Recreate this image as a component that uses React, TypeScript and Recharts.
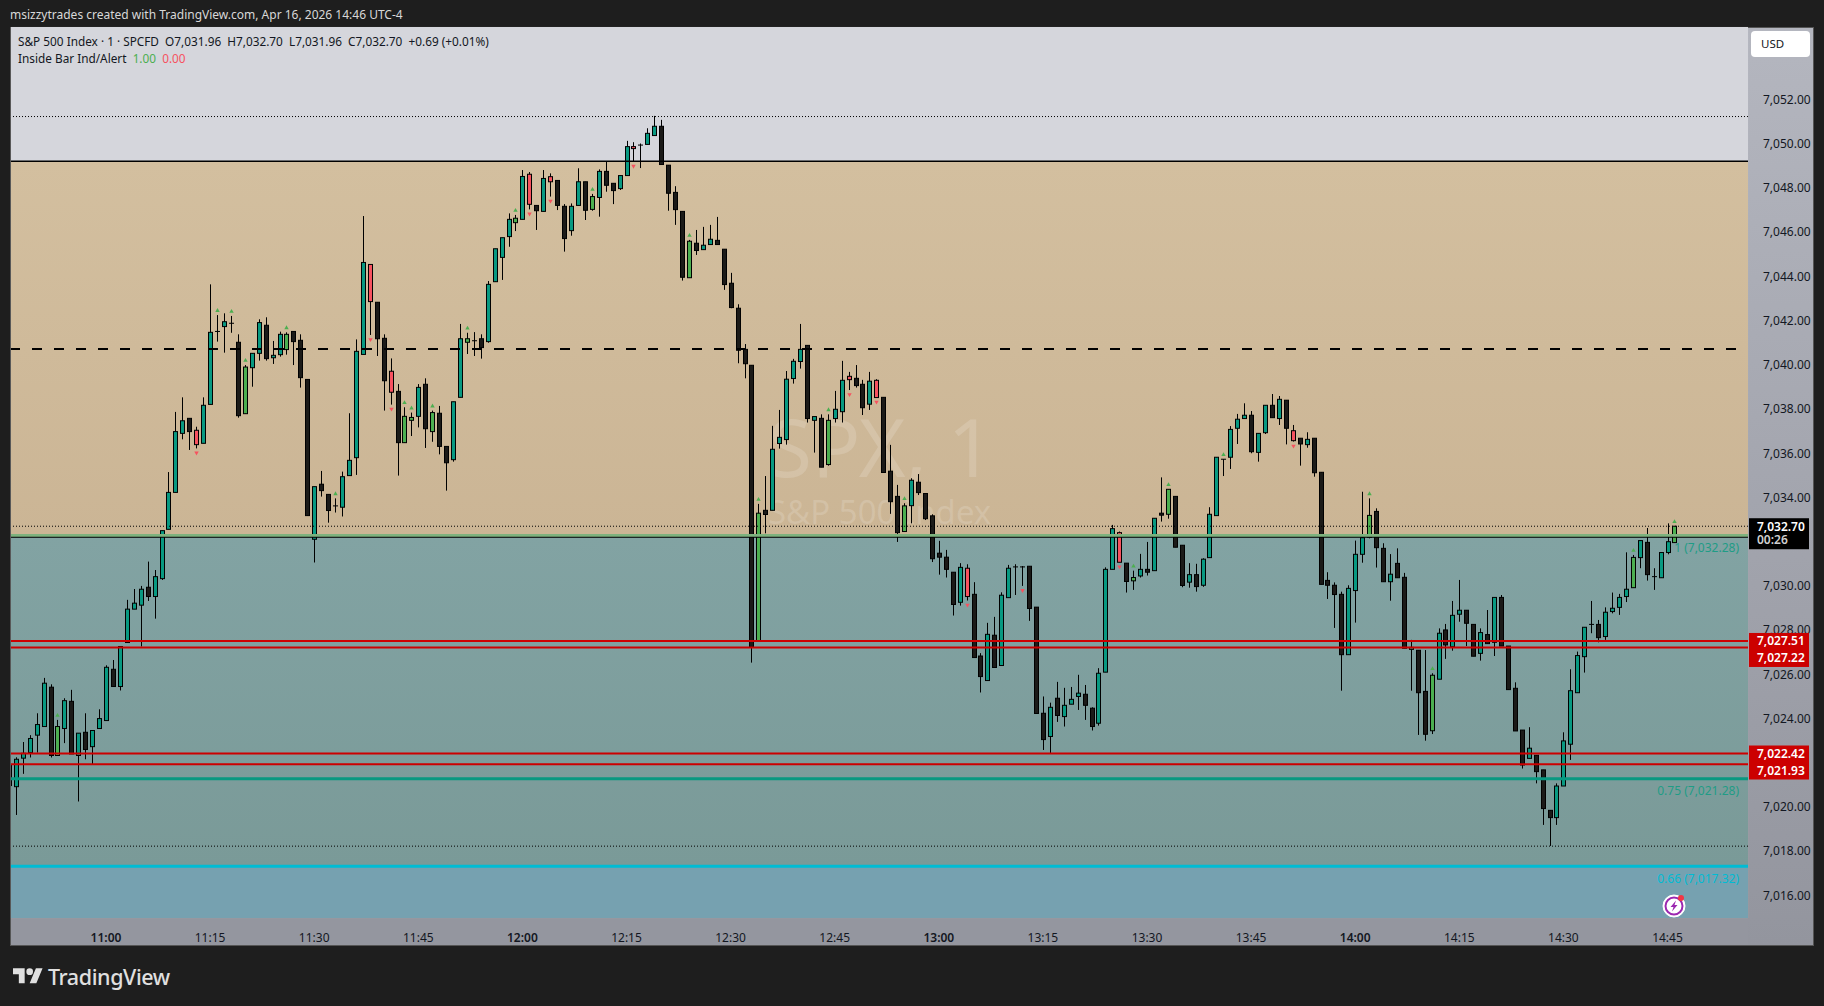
import { Bar, CartesianGrid, ComposedChart, ReferenceArea, ReferenceLine, XAxis, YAxis } from 'recharts';

// one entry per minute, first bar is 10:46, last bar is 14:46
const opens = [
  7021.9, 7020.92, 7022.21, 7022.46, 7023.25, 7023.64, 7025.42, 7022.33, 7023.55, 7024.78, 7022.33, 7023.38, 7022.73, 7023.55, 7023.91,
  7026.23, 7025.45, 7027.44, 7028.95, 7029.13, 7029.94, 7029.52, 7030.33, 7032.56, 7034.23, 7036.9, 7037.58, 7037.04, 7036.45, 7038.21,
  7041.51, 7041.73, 7041.88, 7041.02, 7037.79, 7039.87, 7040.52, 7041.79, 7040.32, 7040.46, 7040.69, 7041.51, 7041.11, 7039.34, 7032.11,
  7034.6, 7034.14, 7033.62, 7033.56, 7034.99, 7035.8, 7040.47, 7044.54, 7042.83, 7041.2, 7039.71, 7038.8, 7036.48, 7037.49, 7037.67,
  7039.12, 7036.98, 7037.81, 7036.31, 7035.71, 7038.53, 7041.02, 7041.09, 7041.18, 7041.05, 7043.76, 7044.86, 7045.8, 7046.43, 7046.58,
  7048.62, 7047.21, 7046.94, 7048.51, 7048.34, 7047.17, 7046.07, 7047.21, 7048.28, 7047.03, 7047.57, 7048.75, 7048.21, 7047.97, 7048.56,
  7049.87, 7049.94, 7049.97, 7050.37, 7050.79, 7049.03, 7047.8, 7046.94, 7043.94, 7045.5, 7045.21, 7045.44, 7045.63, 7045.23, 7043.69,
  7042.56, 7040.7, 7039.98, 7027.5, 7033.42, 7033.42, 7036.44, 7036.62, 7039.38, 7040.15, 7040.88, 7037.49, 7037.58, 7035.49, 7037.57,
  7037.88, 7039.48, 7039.39, 7039.12, 7038.22, 7039.3, 7038.53, 7035.19, 7034.05, 7032.46, 7033.63, 7034.69, 7034.18, 7033.17, 7031.48,
  7031.3, 7030.62, 7029.26, 7030.8, 7029.62, 7026.83, 7025.72, 7027.77, 7026.4, 7029.47, 7030.86, 7030.86, 7030.89, 7029.04, 7024.24,
  7023.19, 7024.92, 7024.09, 7024.65, 7025, 7025.1, 7024.47, 7023.79, 7026.1, 7030.75, 7032.41, 7031.03, 7030.23, 7030.45, 7030.75,
  7030.69, 7033.29, 7033.24, 7034.05, 7031.84, 7030.17, 7030.51, 7030.03, 7031.28, 7033.18, 7035.73, 7035.82, 7037.13, 7037.57, 7037.72,
  7036.04, 7036.93, 7038.17, 7037.57, 7038.4, 7037.02, 7036.68, 7036.39, 7036.68, 7035.14, 7030.25, 7030.03, 7029.62, 7026.89, 7029.79,
  7031.43, 7032.2, 7033.37, 7031.7, 7030.19, 7031.02, 7030.39, 7027.13, 7027.09, 7025.23, 7023.45, 7025.78, 7028.01, 7027.25, 7028.72,
  7028.9, 7028.26, 7026.95, 7027.8, 7027.45, 7029.48, 7027.28, 7025.37, 7023.48, 7022.2, 7022.34, 7021.68, 7019.85, 7019.52, 7020.95,
  7022.84, 7025.17, 7026.8, 7028.26, 7028.26, 7027.71, 7028.84, 7029.03, 7029.52, 7029.92, 7031.28, 7031.97, 7030.42, 7030.37, 7031.51,
  7031.96,
];
const highs = [
  7021.9, 7022.25, 7022.94, 7023.25, 7024.24, 7025.84, 7025.55, 7023.94, 7024.92, 7025.3, 7023.34, 7024.24, 7023.46, 7024.42, 7026.41,
  7026.65, 7027.26, 7029.37, 7029.86, 7030, 7031.1, 7030.72, 7032.5, 7035.15, 7037.87, 7038.53, 7037.58, 7037.2, 7038.53, 7043.64,
  7042.25, 7042.33, 7042.21, 7041.38, 7039.99, 7040.52, 7042.06, 7042.15, 7041.08, 7041.5, 7041.47, 7041.51, 7041.38, 7039.34, 7034.49,
  7035.2, 7034.14, 7033.96, 7035.17, 7037.81, 7041.15, 7046.73, 7044.54, 7042.83, 7041.38, 7040.29, 7039.13, 7038.08, 7037.84, 7039.13,
  7039.39, 7037.93, 7038.14, 7036.31, 7038.33, 7041.85, 7041.45, 7041.48, 7041.38, 7043.79, 7045.25, 7045.75, 7046.85, 7046.78, 7048.81,
  7048.72, 7047.21, 7048.81, 7048.66, 7048.34, 7047.27, 7047.3, 7048.89, 7048.28, 7047.73, 7048.84, 7049.2, 7048.21, 7048.56, 7050.13,
  7050.07, 7050.01, 7050.7, 7051.26, 7051.08, 7049.03, 7048.08, 7046.94, 7045.65, 7046.1, 7046.24, 7046.33, 7046.69, 7045.23, 7044.16,
  7042.74, 7040.94, 7039.98, 7033.71, 7034.97, 7037.24, 7037.96, 7039.72, 7040.27, 7041.85, 7040.88, 7037.66, 7037.76, 7037.76, 7038.82,
  7040.18, 7039.68, 7039.99, 7039.32, 7039.68, 7039.35, 7038.53, 7036.38, 7034.57, 7033.74, 7034.87, 7035.06, 7034.18, 7033.24, 7032.04,
  7031.63, 7030.62, 7031.03, 7030.98, 7030.17, 7026.96, 7028.33, 7028.6, 7029.71, 7030.95, 7030.98, 7030.9, 7030.89, 7029.04, 7025,
  7024.72, 7025.66, 7025.39, 7025.43, 7025.98, 7025.52, 7024.51, 7026.28, 7030.84, 7032.76, 7032.46, 7031.03, 7030.69, 7031.45, 7031.99,
  7033.06, 7034.91, 7034.37, 7034.05, 7031.84, 7031.03, 7031, 7031.25, 7033.56, 7035.82, 7035.73, 7037.23, 7037.78, 7038.26, 7037.91,
  7036.9, 7038.17, 7038.68, 7038.59, 7038.4, 7037.28, 7036.68, 7036.95, 7036.68, 7035.14, 7030.62, 7030.16, 7029.74, 7030.03, 7032.05,
  7034.26, 7033.96, 7033.51, 7031.93, 7031.44, 7031.7, 7030.59, 7027.56, 7027.09, 7027.1, 7026.05, 7028.08, 7028.28, 7029.32, 7030.27,
  7028.9, 7028.26, 7028.08, 7028.91, 7029.48, 7029.59, 7027.28, 7025.64, 7023.48, 7023.61, 7022.34, 7021.68, 7019.85, 7021.07, 7023.38,
  7026.23, 7027.03, 7028.13, 7029.32, 7028.46, 7029.03, 7029.7, 7029.64, 7031.52, 7031.4, 7032.05, 7032.62, 7030.8, 7031.51, 7032.83,
  7032.7,
];
const lows = [
  7020.97, 7019.64, 7021.5, 7022.24, 7022.46, 7023.64, 7022.24, 7022.33, 7022.89, 7022.4, 7020.25, 7022.16, 7021.9, 7023.55, 7023.91,
  7025.45, 7025.27, 7027.44, 7028.95, 7027.26, 7029.32, 7028.52, 7030.27, 7032.56, 7034.23, 7036.63, 7036.15, 7036.22, 7036.45, 7038.21,
  7041.05, 7040.55, 7041.45, 7037.61, 7037.79, 7039.01, 7040.19, 7040.19, 7040.04, 7040.37, 7040.46, 7039.99, 7038.97, 7033.18, 7031.06,
  7034.04, 7032.86, 7033.32, 7033.14, 7034.99, 7035.02, 7040.47, 7041.35, 7040.4, 7037.93, 7038.2, 7034.99, 7036.48, 7036.78, 7037.17,
  7036.24, 7036.52, 7035.95, 7034.31, 7035.62, 7038.53, 7040.49, 7040.4, 7040.28, 7041, 7043.76, 7043.84, 7045.34, 7046.05, 7046.58,
  7047.03, 7046.1, 7046.94, 7047.61, 7047, 7045.12, 7045.84, 7047.21, 7046.55, 7046.97, 7046.7, 7047.83, 7047.27, 7047.91, 7048.56,
  7049.19, 7048.9, 7049.97, 7050.37, 7049.06, 7046.97, 7046.33, 7043.81, 7043.94, 7044.97, 7045.21, 7045.44, 7045.44, 7043.39, 7042.56,
  7040.07, 7039.39, 7026.53, 7027.5, 7032.38, 7033.42, 7036.21, 7036.39, 7039.15, 7039.83, 7037.39, 7036.03, 7035.37, 7035.44, 7037.39,
  7037.39, 7038.86, 7038.97, 7037.73, 7037.96, 7038.52, 7035.13, 7033.26, 7031.99, 7032.46, 7032.83, 7034.11, 7032.98, 7031.08, 7030.51,
  7030.38, 7028.66, 7029.11, 7029.34, 7026.76, 7025.18, 7025.72, 7026.31, 7026.4, 7029.47, 7029.59, 7030, 7028.42, 7024.23, 7022.58,
  7022.4, 7023.85, 7023.64, 7024.65, 7024.39, 7023.94, 7023.46, 7023.68, 7026.1, 7030.75, 7031.07, 7029.7, 7029.82, 7030.38, 7030.47,
  7030.69, 7032.91, 7033.04, 7031.75, 7029.94, 7029.92, 7029.74, 7029.96, 7031.28, 7033.18, 7034.97, 7035.29, 7036.42, 7037.57, 7036,
  7035.62, 7036.87, 7037.61, 7037.28, 7036.4, 7036.53, 7035.44, 7036.25, 7034.94, 7030.07, 7029.41, 7028.1, 7025.26, 7026.89, 7028.34,
  7031.05, 7032.15, 7030.83, 7030.19, 7029.33, 7030.37, 7027.18, 7025.26, 7023.26, 7023, 7023.3, 7025.78, 7026.7, 7027.07, 7028.38,
  7027.28, 7026.82, 7026.62, 7027.39, 7026.83, 7027.28, 7025.31, 7023.44, 7021.74, 7022.2, 7021.07, 7019.19, 7018.24, 7019.19, 7020.95,
  7022.13, 7025.17, 7026.08, 7027.86, 7027.45, 7027.56, 7028.76, 7028.69, 7029.27, 7029.92, 7030.8, 7030.24, 7029.82, 7030.37, 7031.43,
  7031.96,
];
const closes = [
  7020.97, 7022.16, 7022.43, 7023.1, 7023.73, 7025.6, 7022.33, 7023.64, 7024.81, 7022.4, 7023.34, 7022.6, 7023.46, 7024, 7026.32,
  7025.45, 7027.26, 7028.95, 7029.22, 7029.85, 7029.52, 7030.42, 7032.5, 7034.23, 7036.98, 7037.47, 7036.98, 7036.39, 7038.17, 7041.47,
  7041.51, 7041.95, 7041.88, 7037.7, 7039.9, 7040.52, 7041.91, 7040.28, 7040.43, 7041.38, 7041.38, 7041.05, 7039.42, 7033.18, 7034.49,
  7034.31, 7033.41, 7033.62, 7034.94, 7035.68, 7040.61, 7044.63, 7042.86, 7041.18, 7039.28, 7038.76, 7036.48, 7037.67, 7037.62, 7038.98,
  7037.11, 7037.84, 7036.31, 7035.57, 7038.33, 7041.18, 7041.18, 7041.09, 7040.78, 7043.64, 7045.25, 7045.75, 7046.58, 7046.63, 7048.52,
  7047.26, 7046.97, 7048.43, 7048.28, 7047.21, 7045.71, 7047.17, 7048.28, 7046.99, 7047.61, 7048.75, 7048.12, 7047.88, 7048.56, 7049.87,
  7049.78, 7049.94, 7050.47, 7050.79, 7049.06, 7047.76, 7047.02, 7043.96, 7045.59, 7045.17, 7045.41, 7045.68, 7045.44, 7043.63, 7042.59,
  7040.66, 7040.05, 7027.23, 7033.29, 7033.23, 7036.18, 7036.72, 7039.35, 7040.16, 7040.7, 7037.57, 7037.66, 7035.37, 7037.49, 7037.99,
  7039.3, 7039.33, 7039.06, 7038.06, 7039.26, 7038.52, 7035.13, 7033.81, 7032.41, 7033.62, 7034.78, 7034.22, 7033.04, 7031.23, 7031.3,
  7030.75, 7029.16, 7030.84, 7029.52, 7026.76, 7025.9, 7027.81, 7026.31, 7029.58, 7030.8, 7030.86, 7030.86, 7028.98, 7024.23, 7023.05,
  7024.51, 7024.14, 7024.6, 7024.87, 7025.15, 7024.6, 7023.64, 7026.05, 7030.75, 7032.59, 7031.07, 7030.2, 7030.38, 7030.75, 7030.62,
  7033.06, 7033.2, 7034.37, 7031.75, 7030.02, 7030.51, 7029.97, 7031.21, 7033.24, 7035.82, 7035.73, 7037.08, 7037.54, 7037.72, 7036.07,
  7036.9, 7038.17, 7037.61, 7038.44, 7037.13, 7036.57, 7036.42, 7036.63, 7035.12, 7030.07, 7030.03, 7029.61, 7026.89, 7029.89, 7031.43,
  7032.18, 7033.19, 7031.73, 7030.19, 7030.53, 7030.37, 7027.18, 7027.22, 7025.17, 7023.29, 7025.96, 7027.86, 7027.33, 7028.67, 7028.9,
  7028.31, 7026.82, 7027.89, 7027.39, 7029.48, 7027.28, 7025.31, 7023.44, 7021.9, 7022.66, 7021.6, 7019.93, 7019.52, 7020.95, 7022.99,
  7025.26, 7026.85, 7028.13, 7028.26, 7027.66, 7028.81, 7028.99, 7029.48, 7029.85, 7031.29, 7032.05, 7030.51, 7030.42, 7031.51, 7032,
  7032.7,
];

// minutes after 11:00 of the inside bars flagged by the indicator
const insideUp = [-7, 16, 18, 20, 26, 33, 43, 44, 47, 52, 59, 70, 84, 94, 104, 115, 148, 153, 161, 182, 191, 220, 226];
const insideDown = [13, 38, 41, 61, 64, 76, 107, 111, 124, 132, 146, 171];

// 7,032 and 7,022 sit behind the price tags in the original, so they are left out
const priceTicks = [7016, 7018, 7020, 7024, 7026, 7028, 7030, 7034, 7036, 7038, 7040, 7042, 7044, 7046, 7048, 7050, 7052];
const timeTicks = [0, 15, 30, 45, 60, 75, 90, 105, 120, 135, 150, 165, 180, 195, 210, 225];
const timeLabels = ['11:00', '11:15', '11:30', '11:45', '12:00', '12:15', '12:30', '12:45', '13:00', '13:15', '13:30', '13:45', '14:00', '14:15', '14:30', '14:45'];

const firstMinute = -14;
const bars = opens.map((open, i) => ({
  minute: firstMinute + i,
  open,
  high: highs[i],
  low: lows[i],
  close: closes[i],
  range: [lows[i], highs[i]],
}));

const UI_FONT = '"Noto Sans", sans-serif';
const X_DOMAIN = [-13.69, 236.6];
const Y_DOMAIN = [7014.98, 7055.28];
const fmt = (v: number) => v.toLocaleString('en-US', { minimumFractionDigits: 2, maximumFractionDigits: 2 });

const Candle = (props: any) => {
  const { x, y, width, height, payload } = props;
  const { minute, open, high, low, close } = payload;
  const cx = Math.round(x + width / 2) + 0.5;
  const perUnit = high > low ? height / (high - low) : 0;
  const top = y + (high - Math.max(open, close)) * perUnit;
  const bottom = y + (high - Math.min(open, close)) * perUnit;
  const up = insideUp.includes(minute);
  const down = insideDown.includes(minute);
  let fill = close > open ? '#089981' : '#1b1a18';
  if (up && close !== open) fill = '#4caf50';
  if (down && close !== open) fill = '#f7525f';
  return (
    <g>
      <line x1={cx} x2={cx} y1={y} y2={y + height} stroke="#000" strokeWidth={1} />
      <rect x={cx - 2} y={top} width={4} height={Math.max(bottom - top, 0.01)} fill={fill} stroke="#000" strokeWidth={1} />
      {up && <path d={`M${cx} ${y - 7}L${cx + 2.2} ${y - 3.2}L${cx - 2.2} ${y - 3.2}Z`} fill="#4caf50" />}
      {down && <path d={`M${cx} ${y + height + 7}L${cx + 2.2} ${y + height + 3.2}L${cx - 2.2} ${y + height + 3.2}Z`} fill="#f7525f" />}
    </g>
  );
};

const TimeTick = (props: any) => {
  const { x, y, payload } = props;
  const label = timeLabels[timeTicks.indexOf(payload.value)];
  return (
    <text x={x} y={y} textAnchor="middle" dominantBaseline="central" fontFamily={UI_FONT} fontSize={12} fontWeight={label.endsWith(':00') ? 600 : 400} fill="#131722">
      {label}
    </text>
  );
};

const Tag = (props: any) => {
  const { viewBox, rows, secondDy, bg, boxTop, boxHeight, dim } = props;
  const left = viewBox.x + viewBox.width + 1;
  return (
    <g fontFamily={UI_FONT} fontSize={12} fontWeight={600}>
      <rect x={left} y={viewBox.y + boxTop} width={60} height={boxHeight} fill={bg} />
      <text x={left + 8} y={viewBox.y} dominantBaseline="central" fill="#fff">{rows[0]}</text>
      <text x={left + 8} y={viewBox.y + secondDy} dominantBaseline="central" fill={dim ? '#d0d0d0' : '#fff'}>{rows[1]}</text>
    </g>
  );
};

const FibText = (props: any) => {
  const { viewBox, text, color } = props;
  return (
    <text x={viewBox.x + viewBox.width - 9} y={viewBox.y + 12} textAnchor="end" dominantBaseline="central" fontFamily={UI_FONT} fontSize={12} fill={color}>
      {text}
    </text>
  );
};

const Watermark = (props: any) => {
  const { viewBox } = props;
  return (
    <g fontFamily={UI_FONT} fill="rgba(255,255,255,0.16)">
      <text x={viewBox.x + 757} y={viewBox.y + 316} fontSize={80}>SPX, 1</text>
      <text x={viewBox.x + 757} y={viewBox.y + 363} fontSize={33}>S&amp;P 500 Index</text>
    </g>
  );
};

const dottedLevels = [7051.23, 7032.7, 7018.23];
const redLevels = [7027.51, 7027.22, 7022.42, 7021.93];

export default function App() {
  return (
    <div style={{ position: 'absolute', left: 0, top: 0, width: 1824, height: 1006, background: '#1e1e1e', overflow: 'hidden' }}>
      <div style={{ position: 'absolute', left: 10, top: 6, color: '#d8d8d8', font: `12px ${UI_FONT}`, whiteSpace: 'nowrap' }}>
        msizzytrades created with TradingView.com, Apr 16, 2026 14:46 UTC-4
      </div>
      {/* pane frame and axis strips */}
      <div style={{ position: 'absolute', left: 10, top: 27, width: 1802, height: 917, border: '1px solid #555' }} />
      <div style={{ position: 'absolute', left: 1748, top: 28, width: 65, height: 917, background: 'linear-gradient(#b4b6bf, #93959e)' }} />
      <div style={{ position: 'absolute', left: 11, top: 918, width: 1737, height: 27, background: '#94969f' }} />

      <ComposedChart
        width={1824}
        height={1006}
        data={bars}
        margin={{ top: 27, right: 11, bottom: 61, left: 11 }}
        style={{ position: 'absolute', left: 0, top: 0 }}
      >
        <defs>
          <linearGradient id="tanZone" x1="0" y1="0" x2="0" y2="1">
            <stop offset="0" stopColor="#d3bf9f" />
            <stop offset="1" stopColor="#cbb595" />
          </linearGradient>
          <linearGradient id="tealZone" x1="0" y1="0" x2="0" y2="1">
            <stop offset="0" stopColor="#82a3a3" />
            <stop offset="1" stopColor="#7a9a98" />
          </linearGradient>
        </defs>
        <XAxis
          type="number"
          dataKey="minute"
          domain={X_DOMAIN}
          ticks={timeTicks}
          allowDataOverflow
          axisLine={false}
          tickLine={false}
          tickMargin={13}
          height={27}
          tick={<TimeTick />}
          interval={0}
        />
        <YAxis
          orientation="right"
          domain={Y_DOMAIN}
          ticks={priceTicks}
          width={65}
          axisLine={false}
          tickLine={false}
          tickMargin={9}
          tickFormatter={fmt}
          interval={0}
          tick={{ fontFamily: UI_FONT, fontSize: 12, fill: '#131722' }}
        />
        <ReferenceArea y1={7049.21} y2={7055.28} fill="#d5d6dc" fillOpacity={1} />
        <ReferenceArea y1={7032.21} y2={7049.21} fill="url(#tanZone)" fillOpacity={1} label={<Watermark />} />
        <ReferenceArea y1={7017.33} y2={7032.21} fill="url(#tealZone)" fillOpacity={1} />
        <ReferenceArea y1={7014.98} y2={7017.33} fill="#76a1b0" fillOpacity={1} />
        <CartesianGrid stroke="rgba(255,255,255,0.04)" />

        <ReferenceLine y={7049.21} stroke="#000" strokeWidth={1.5} />
        <ReferenceLine y={7040.72} stroke="#000" strokeWidth={2} strokeDasharray="10 12" strokeDashoffset={10} />
        {dottedLevels.map((level) => (
          <ReferenceLine key={level} y={level} stroke="#000" strokeWidth={1} strokeDasharray="1 2" />
        ))}
        <ReferenceLine y={7032.28} stroke="#7eb27e" strokeWidth={3} label={<FibText text="1 (7,032.28)" color="#1f9c86" />} />
        <ReferenceLine y={7032.2} stroke="#000" strokeWidth={1} />
        <ReferenceLine y={7021.28} stroke="#089981" strokeWidth={3} label={<FibText text="0.75 (7,021.28)" color="#1f9c86" />} />
        <ReferenceLine y={7017.32} stroke="#00bcd4" strokeWidth={3} label={<FibText text="0.66 (7,017.32)" color="#00bcd4" />} />
        {redLevels.map((level) => (
          <ReferenceLine key={level} y={level} stroke="#cc0000" strokeWidth={2} />
        ))}

        <Bar dataKey="range" barSize={5} shape={<Candle />} isAnimationActive={false} />
      </ComposedChart>

      {/* price tags go in a second chart so they cover the axis labels */}
      <ComposedChart
        width={1824}
        height={1006}
        data={bars}
        margin={{ top: 27, right: 76, bottom: 88, left: 11 }}
        style={{ position: 'absolute', left: 0, top: 0 }}
      >
        <XAxis type="number" dataKey="minute" domain={X_DOMAIN} allowDataOverflow height={0} tick={false} axisLine={false} tickLine={false} />
        <YAxis domain={Y_DOMAIN} width={0} tick={false} axisLine={false} tickLine={false} />
        <Bar dataKey="range" fill="none" isAnimationActive={false} />
        <ReferenceLine y={7032.7} stroke="none" label={<Tag rows={[fmt(7032.7), '00:26']} secondDy={13.6} bg="#000" boxTop={-8} boxHeight={31} dim />} />
        <ReferenceLine y={7027.51} stroke="none" label={<Tag rows={[fmt(7027.51), fmt(7027.22)]} secondDy={17} bg="#cc0000" boxTop={-8} boxHeight={34} />} />
        <ReferenceLine y={7022.42} stroke="none" label={<Tag rows={[fmt(7022.42), fmt(7021.93)]} secondDy={17} bg="#cc0000" boxTop={-8} boxHeight={34} />} />
      </ComposedChart>

      {/* legend */}
      <div style={{ position: 'absolute', left: 18, top: 33, color: '#131722', font: `11.8px ${UI_FONT}`, whiteSpace: 'pre' }}>
        {'S&P 500 Index · 1 · SPCFD  O7,031.96  H7,032.70  L7,031.96  C7,032.70  +0.69 (+0.01%)'}
      </div>
      <div style={{ position: 'absolute', left: 18, top: 50, color: '#131722', font: `11.8px ${UI_FONT}`, whiteSpace: 'pre' }}>
        {'Inside Bar Ind/Alert  '}
        <span style={{ color: '#4caf50' }}>1.00</span>
        {'  '}
        <span style={{ color: '#f7525f' }}>0.00</span>
      </div>

      {/* currency button */}
      <div style={{ position: 'absolute', left: 1751, top: 31, width: 59, height: 26, background: '#fff', borderRadius: 4, color: '#131722', font: `11.5px/26px ${UI_FONT}`, textIndent: 10 }}>
        USD
      </div>

      {/* alert badge */}
      <svg style={{ position: 'absolute', left: 1660, top: 892 }} width={28} height={28}>
        <circle cx={14} cy={14} r={11} fill="#fff" stroke="#fff" strokeWidth={1} />
        <circle cx={14} cy={14} r={8.5} fill="none" stroke="#9c27b0" strokeWidth={2} />
        <path d="M16 8.5L10.5 15H13.5L12 19.5L17.5 13H14.5Z" fill="#9c27b0" />
        <circle cx={21} cy={6} r={3} fill="#f23645" />
      </svg>

      {/* brand */}
      <svg style={{ position: 'absolute', left: 12, top: 965 }} width={32} height={20} viewBox="0 0 36 24">
        <path d="M14 22H7V11H0V4h14v18zM28 22h-8l7.5-18h8L28 22z" fill="#e0e0e0" />
        <circle cx={20} cy={8} r={4} fill="#e0e0e0" />
      </svg>
      <div style={{ position: 'absolute', left: 48, top: 962, color: '#e0e0e0', font: `500 21.5px ${UI_FONT}`, letterSpacing: -0.4 }}>
        TradingView
      </div>
    </div>
  );
}
